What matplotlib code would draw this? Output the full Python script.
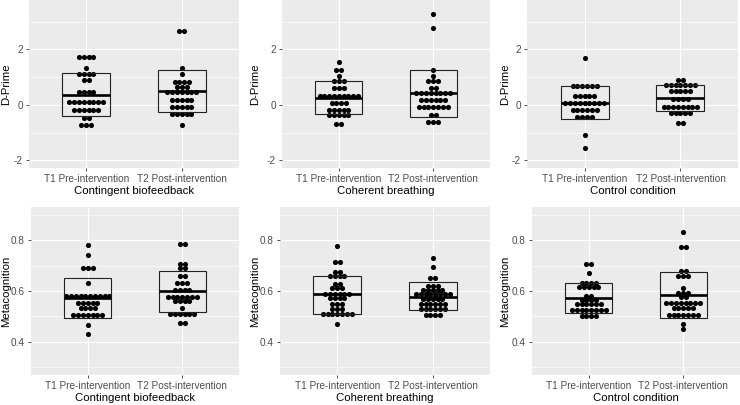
import numpy as np
import matplotlib
matplotlib.use("Agg")
import matplotlib.pyplot as plt

plt.rcParams['font.family'] = ['Liberation Sans', 'DejaVu Sans']
plt.rcParams['axes.unicode_minus'] = False

conditions = ["Contingent biofeedback", "Coherent breathing", "Control condition"]
timepoints = ["T1 Pre-intervention", "T2 Post-intervention"]

# ---- D-Prime: dot levels (binned values) and dot counts per level ----
dp_cb_t1_levels = [1.73, 1.34, 1.10, 0.89, 0.47, 0.11, -0.17, -0.49, -0.71]
dp_cb_t1_counts = [4, 1, 4, 2, 4, 8, 6, 2, 3]
dp_cb_t2_levels = [2.65, 1.34, 1.10, 0.83, 0.65, 0.47, 0.19, -0.09, -0.33, -0.73]
dp_cb_t2_counts = [2, 1, 1, 4, 3, 7, 5, 5, 5, 1]
dp_br_t1_levels = [1.55, 1.25, 1.04, 0.85, 0.61, 0.32, 0.05, -0.17, -0.37, -0.68]
dp_br_t1_counts = [1, 2, 1, 3, 3, 9, 4, 5, 5, 2]
dp_br_t2_levels = [3.26, 2.78, 1.25, 1.04, 0.85, 0.61, 0.41, 0.17, -0.07, -0.35, -0.61]
dp_br_t2_counts = [1, 1, 1, 1, 3, 2, 8, 6, 7, 2, 3]
dp_ct_t1_levels = [1.70, 0.68, 0.32, 0.07, -0.19, -0.45, -1.09, -1.57]
dp_ct_t1_counts = [1, 6, 5, 9, 6, 4, 1, 1]
dp_ct_t2_levels = [0.91, 0.71, 0.49, 0.21, -0.07, -0.31, -0.66]
dp_ct_t2_counts = [2, 7, 5, 4, 8, 5, 2]

# D-Prime crossbars (mean, lower, upper) per condition x timepoint
dp_mid = [[0.35, 0.50], [0.25, 0.41], [0.05, 0.25]]
dp_lo = [[-0.42, -0.27], [-0.33, -0.43], [-0.51, -0.22]]
dp_hi = [[1.14, 1.24], [0.85, 1.24], [0.67, 0.71]]

# ---- Metacognition ----
mc_cb_t1_levels = [0.780, 0.741, 0.692, 0.630, 0.580, 0.554, 0.534, 0.505, 0.466, 0.433]
mc_cb_t1_counts = [1, 1, 3, 1, 10, 5, 4, 7, 1, 1]
mc_cb_t2_levels = [0.784, 0.708, 0.692, 0.659, 0.633, 0.603, 0.578, 0.561, 0.532, 0.508, 0.475]
mc_cb_t2_counts = [2, 2, 2, 2, 3, 4, 7, 4, 1, 6, 2]
mc_br_t1_levels = [0.775, 0.712, 0.673, 0.657, 0.628, 0.610, 0.590, 0.571, 0.550, 0.531, 0.508, 0.471]
mc_br_t1_counts = [1, 2, 2, 4, 2, 3, 6, 4, 3, 3, 7, 1]
mc_br_t2_levels = [0.729, 0.696, 0.653, 0.620, 0.605, 0.588, 0.568, 0.548, 0.528, 0.504]
mc_br_t2_counts = [1, 1, 2, 3, 5, 8, 5, 6, 6, 4]
mc_ct_t1_levels = [0.708, 0.669, 0.632, 0.616, 0.580, 0.566, 0.547, 0.527, 0.500]
mc_ct_t1_counts = [2, 1, 4, 5, 2, 4, 6, 8, 4]
mc_ct_t2_levels = [0.830, 0.771, 0.679, 0.659, 0.613, 0.594, 0.577, 0.554, 0.535, 0.505, 0.471, 0.449]
mc_ct_t2_counts = [1, 2, 2, 3, 1, 3, 2, 8, 5, 7, 1, 1]

mc_mid = [[0.571, 0.600], [0.587, 0.576], [0.571, 0.584]]
mc_lo = [[0.495, 0.517], [0.511, 0.524], [0.512, 0.492]]
mc_hi = [[0.650, 0.680], [0.659, 0.634], [0.630, 0.675]]

dp_ticks = [-2, 0, 2]
mc_ticks = [0.4, 0.6, 0.8]

dp_groups = [[(dp_cb_t1_levels, dp_cb_t1_counts), (dp_cb_t2_levels, dp_cb_t2_counts)],
             [(dp_br_t1_levels, dp_br_t1_counts), (dp_br_t2_levels, dp_br_t2_counts)],
             [(dp_ct_t1_levels, dp_ct_t1_counts), (dp_ct_t2_levels, dp_ct_t2_counts)]]
mc_groups = [[(mc_cb_t1_levels, mc_cb_t1_counts), (mc_cb_t2_levels, mc_cb_t2_counts)],
             [(mc_br_t1_levels, mc_br_t1_counts), (mc_br_t2_levels, mc_br_t2_counts)],
             [(mc_ct_t1_levels, mc_ct_t1_counts), (mc_ct_t2_levels, mc_ct_t2_counts)]]

W, H = 740, 405
fig = plt.figure(figsize=(W / 100, H / 100), dpi=100)

def add_ax(l, r, t, b):
    return fig.add_axes([l / W, 1 - b / H, (r - l) / W, (b - t) / H])

top_boxes = [(29, 239), (282, 490), (527, 738)]
bot_boxes = [(31, 239), (280, 490), (532, 740)]
ylab_px = [6, 255, 505]

BG = '#EBEBEB'
DOT_PX = 4.8

def draw_panel(ax, lr, groups, mids, los, his, ylim, ticks, minor, ylabel, xlabel, ylab_x):
    ax.set_facecolor(BG)
    for s in ax.spines.values():
        s.set_visible(False)
    ax.set_xlim(0.4, 2.6)
    rng = ylim[1] - ylim[0]
    ax.set_ylim(ylim[0] - 0.05 * rng, ylim[1] + 0.05 * rng)
    ax.set_yticks(ticks)
    ax.set_yticks(minor, minor=True)
    ax.set_xticks([1, 2])
    ax.set_xticklabels(timepoints)
    ax.set_yticklabels([('%g' % t) for t in ticks])
    ax.grid(True, which='major', color='white', lw=0.85)
    ax.grid(True, which='minor', axis='y', color='white', lw=0.45)
    ax.set_axisbelow(True)
    ax.tick_params(axis='both', which='major', length=2.2, width=0.6, color='#333333',
                   labelcolor='#4D4D4D', labelsize=7.2, pad=2.2)
    ax.tick_params(axis='both', which='minor', length=0)
    ax.set_xlabel(xlabel, fontsize=8.2, color='black', labelpad=1.5)
    ax.set_ylabel(ylabel, fontsize=8.2, color='black', va='center')
    width_px = lr[1] - lr[0]
    dx = DOT_PX * 2.2 / width_px
    for j, (levels, counts) in enumerate(groups):
        xc = j + 1
        xs, ys = [], []
        for lv, c in zip(levels, counts):
            for k in range(c):
                xs.append(xc + (k - (c - 1) / 2) * dx)
                ys.append(lv)
        ax.plot(xs, ys, 'o', color='black', ms=3.7, mew=0, zorder=3)
        # crossbar (mean +/- sd)
        ax.add_patch(plt.Rectangle((xc - 0.25, los[j]), 0.5, his[j] - los[j],
                                   fill=False, ec='#222222', lw=0.8, zorder=4))
        ax.plot([xc - 0.25, xc + 0.25], [mids[j], mids[j]], color='black', lw=1.9,
                solid_capstyle='butt', zorder=5)
    ax.yaxis.set_label_coords((ylab_x - lr[0]) / width_px, 0.5)

for i in range(3):
    ax = add_ax(top_boxes[i][0], top_boxes[i][1], 0, 168)
    draw_panel(ax, top_boxes[i], dp_groups[i], dp_mid[i], dp_lo[i], dp_hi[i],
               (-2, 3.5), dp_ticks, [-1, 1, 3], 'D-Prime', conditions[i], ylab_px[i])
    ax2 = add_ax(bot_boxes[i][0], bot_boxes[i][1], 207, 375)
    draw_panel(ax2, bot_boxes[i], mc_groups[i], mc_mid[i], mc_lo[i], mc_hi[i],
               (0.3, 0.9), mc_ticks, [0.3, 0.5, 0.7, 0.9], 'Metacognition', conditions[i], ylab_px[i])

fig.savefig('out.png', dpi=100, facecolor='white')
